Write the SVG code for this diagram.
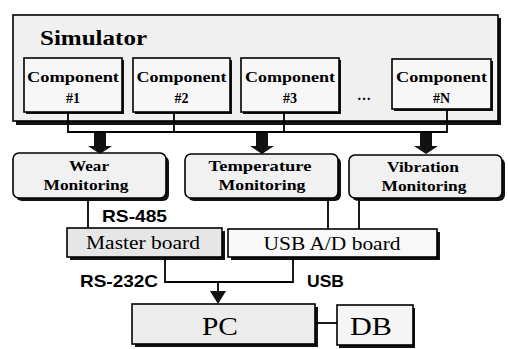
<svg xmlns="http://www.w3.org/2000/svg" width="508" height="349" viewBox="0 0 508 349">
<defs>
<style>
.box{stroke:#000;stroke-width:1.6}
.shadow{fill:#111}
.ttl{font-family:"Liberation Serif",serif;font-weight:bold;fill:#000}
.cmp{font-family:"Liberation Serif",serif;font-weight:bold;font-size:14px;fill:#000;text-anchor:middle}
.mon{font-family:"Liberation Serif",serif;font-weight:bold;font-size:15px;fill:#000;text-anchor:middle}
.brd{font-family:"Liberation Serif",serif;font-size:19px;fill:#000;text-anchor:middle}
.big{font-family:"Liberation Serif",serif;font-size:25px;fill:#000;text-anchor:middle}
.lbl{font-family:"Liberation Sans",sans-serif;font-weight:bold;font-size:17px;fill:#000}
.ln{fill:none;stroke:#000;stroke-width:1.8}
.blk{fill:#111;stroke:none}
</style>
</defs>
<rect width="508" height="349" fill="#fff"/>

<g id="simulator">
<rect class="shadow" x="16" y="18" width="485" height="107"/>
<rect class="box" x="13" y="15" width="485" height="106" fill="#f0f0f0"/>
<text class="ttl" x="40" y="45" font-size="22" textLength="107" lengthAdjust="spacingAndGlyphs">Simulator</text>
</g>

<g id="comp1">
<rect class="shadow" x="26" y="60" width="98" height="54"/>
<rect class="box" x="24" y="58" width="98" height="54" fill="#f7f7f7"/>
<text class="cmp" x="73" y="82" textLength="92" lengthAdjust="spacingAndGlyphs">Component</text>
<text class="cmp" x="73" y="103">#1</text>
</g>
<g id="comp2">
<rect class="shadow" x="135" y="60" width="97" height="54"/>
<rect class="box" x="133" y="58" width="97" height="54" fill="#f7f7f7"/>
<text class="cmp" x="181.5" y="82" textLength="90" lengthAdjust="spacingAndGlyphs">Component</text>
<text class="cmp" x="181.5" y="103">#2</text>
</g>
<g id="comp3">
<rect class="shadow" x="243" y="60" width="98" height="54"/>
<rect class="box" x="241" y="58" width="98" height="54" fill="#f7f7f7"/>
<text class="cmp" x="290" y="82" textLength="90" lengthAdjust="spacingAndGlyphs">Component</text>
<text class="cmp" x="290" y="103">#3</text>
</g>
<g id="dots">
<text class="cmp" x="364" y="100" font-size="16">…</text>
</g>
<g id="compN">
<rect class="shadow" x="394" y="61" width="99" height="50"/>
<rect class="box" x="392" y="59" width="99" height="50" fill="#f7f7f7"/>
<text class="cmp" x="441.5" y="82" textLength="91" lengthAdjust="spacingAndGlyphs">Component</text>
<text class="cmp" x="441.5" y="103">#N</text>
</g>

<g id="wear">
<rect class="shadow" x="16" y="156" width="153" height="45" rx="6"/>
<rect class="box" x="13" y="153" width="153" height="45" rx="6" fill="#f1f1f1"/>
<text class="mon" x="89" y="171" textLength="40" lengthAdjust="spacingAndGlyphs">Wear</text>
<text class="mon" x="86" y="190" textLength="85" lengthAdjust="spacingAndGlyphs">Monitoring</text>
</g>
<g id="temperature">
<rect class="shadow" x="188" y="157" width="153" height="44" rx="6"/>
<rect class="box" x="185" y="154" width="153" height="44" rx="6" fill="#f1f1f1"/>
<text class="mon" x="260" y="171" textLength="103" lengthAdjust="spacingAndGlyphs">Temperature</text>
<text class="mon" x="262" y="190" textLength="87" lengthAdjust="spacingAndGlyphs">Monitoring</text>
</g>
<g id="vibration">
<rect class="shadow" x="352" y="158" width="153" height="43" rx="6"/>
<rect class="box" x="349" y="155" width="153" height="43" rx="6" fill="#f1f1f1"/>
<text class="mon" x="423" y="172" textLength="72" lengthAdjust="spacingAndGlyphs">Vibration</text>
<text class="mon" x="424" y="191" textLength="85" lengthAdjust="spacingAndGlyphs">Monitoring</text>
</g>

<g id="master">
<rect class="shadow" x="70" y="231" width="155" height="29"/>
<rect class="box" x="67" y="228" width="155" height="29" fill="#e6e6e6"/>
<text class="brd" x="143" y="249" textLength="114" lengthAdjust="spacingAndGlyphs">Master board</text>
</g>
<g id="usb">
<rect class="shadow" x="231" y="232" width="209" height="28"/>
<rect class="box" x="228" y="229" width="209" height="28" fill="#f8f8f8"/>
<text class="brd" x="332" y="250" textLength="137" lengthAdjust="spacingAndGlyphs">USB A/D board</text>
</g>
<g id="pc">
<rect class="shadow" x="135" y="307" width="183" height="40"/>
<rect class="box" x="132" y="304" width="183" height="40" fill="#ececec"/>
<text class="big" x="220" y="335" textLength="36" lengthAdjust="spacingAndGlyphs">PC</text>
</g>
<g id="db">
<rect class="shadow" x="339" y="308" width="76" height="40"/>
<rect class="box" x="337" y="305" width="76" height="40" fill="#f5f5f5"/>
<text class="big" x="371" y="335" textLength="42" lengthAdjust="spacingAndGlyphs">DB</text>
</g>

<g id="connectors">
<path class="ln" d="M68 112V132H447V109M174 112V132M284 112V132" stroke-width="2.2"/>
<path class="blk" d="M94 133H106V146H112L100 154L88 146H94Z"/>
<path class="blk" d="M256 133H268V146H274L262 154L250 146H256Z"/>
<path class="blk" d="M420 133H432V146H438L426 154L414 146H420Z"/>
<path class="ln" d="M88 199V228"/>
<path class="ln" d="M328 198V229M359 198V229"/>
<path class="ln" d="M165 257V282H293V257"/>
<path class="ln" d="M218 282V292"/>
<path class="blk" d="M210 291H226L218 304Z"/>
<path class="ln" d="M315 323H337" stroke-width="2.2"/>
</g>

<g id="labels">
<text class="lbl" x="102" y="222" textLength="65" lengthAdjust="spacingAndGlyphs">RS-485</text>
<text class="lbl" x="80" y="287" textLength="78" lengthAdjust="spacingAndGlyphs">RS-232C</text>
<text class="lbl" x="307" y="287" textLength="37" lengthAdjust="spacingAndGlyphs">USB</text>
</g>
</svg>
